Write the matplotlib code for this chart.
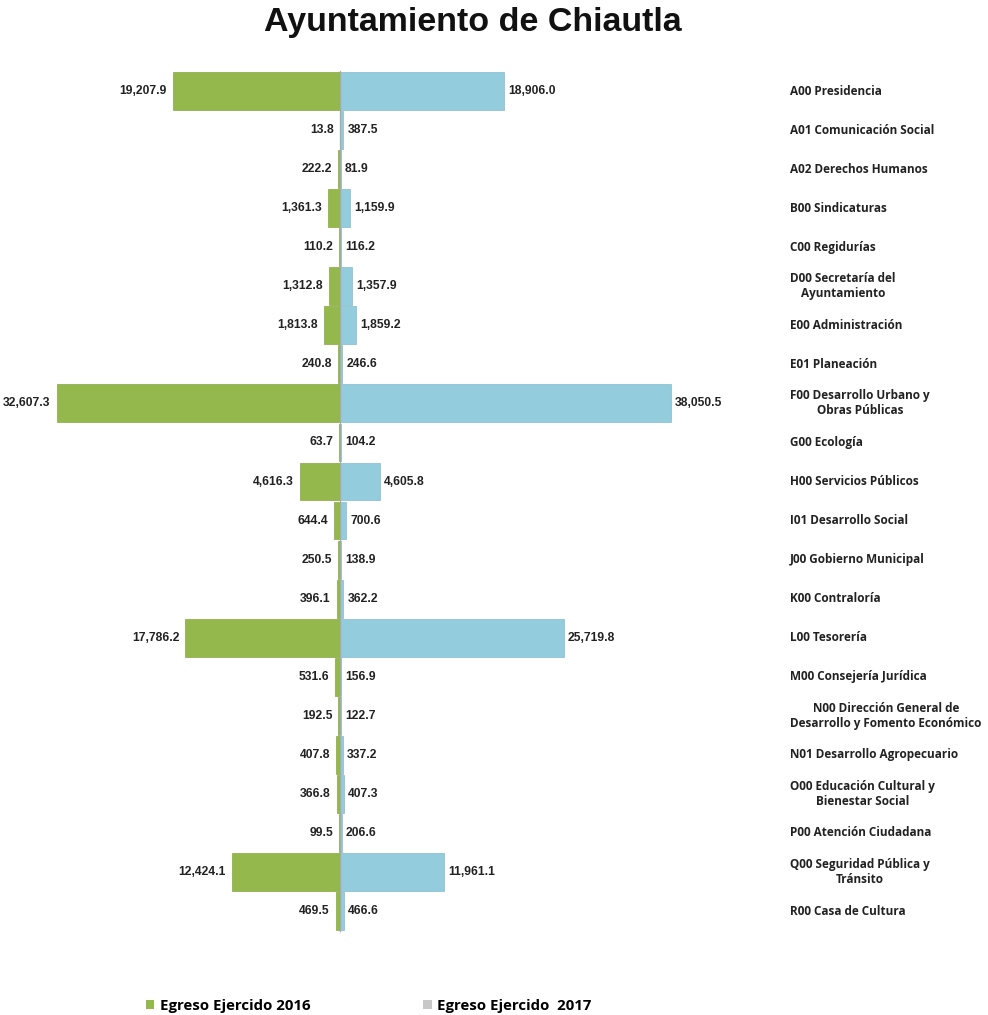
import matplotlib
matplotlib.use("Agg")
import matplotlib.pyplot as plt
from matplotlib.patches import Patch

categories = [
    "A00 Presidencia", "A01 Comunicación Social", "A02 Derechos Humanos",
    "B00 Sindicaturas", "C00 Regidurías", "D00 Secretaría del\nAyuntamiento",
    "E00 Administración", "E01 Planeación", "F00 Desarrollo Urbano y\nObras Públicas",
    "G00 Ecología", "H00 Servicios Públicos", "I01 Desarrollo Social",
    "J00 Gobierno Municipal", "K00 Contraloría", "L00 Tesorería",
    "M00 Consejería Jurídica", "N00 Dirección General de\nDesarrollo y Fomento Económico",
    "N01 Desarrollo Agropecuario", "O00 Educación Cultural y\nBienestar Social",
    "P00 Atención Ciudadana", "Q00 Seguridad Pública y\nTránsito", "R00 Casa de Cultura",
]
egreso_2016 = [19207.9, 13.8, 222.2, 1361.3, 110.2, 1312.8, 1813.8, 240.8, 32607.3, 63.7,
               4616.3, 644.4, 250.5, 396.1, 17786.2, 531.6, 192.5, 407.8, 366.8, 99.5,
               12424.1, 469.5]
egreso_2017 = [18906.0, 387.5, 81.9, 1159.9, 116.2, 1357.9, 1859.2, 246.6, 38050.5, 104.2,
               4605.8, 700.6, 138.9, 362.2, 25719.8, 156.9, 122.7, 337.2, 407.3, 206.6,
               11961.1, 466.6]
series_names = ["Egreso Ejercido 2016", "Egreso Ejercido  2017"]

W, H = 988, 1015
fig = plt.figure(figsize=(W / 100, H / 100), dpi=100)
ax = fig.add_axes([0, 0, 1, 1])

px_per_unit = 0.00869
x0_px = 340
ax.set_xlim(-x0_px / px_per_unit, (W - x0_px) / px_per_unit)
row0_px, row_step = 91, 39.05
ax.set_ylim((H - row0_px) / row_step, -row0_px / row_step)
ax.axis("off")

green = "#94B84C"
blue = "#92CCDD"
n = len(categories)
ys = list(range(n))
ax.barh(ys, [-v for v in egreso_2016], height=0.97, color=green,
        edgecolor="#86A842", linewidth=0.5)
ax.barh(ys, egreso_2017, height=0.97, color=blue,
        edgecolor="#84BCCC", linewidth=0.5)
ax.plot([0, 0], [-0.5, n - 0.5], color="#A8A8A8", lw=0.9, zorder=3)

vfont = dict(family=["Liberation Sans", "DejaVu Sans"], fontsize=8.7,
             fontweight="bold", color="#222222")
off = 6 / px_per_unit
for y, a, b in zip(ys, egreso_2016, egreso_2017):
    ax.text(-a - off, y, f"{a:,.1f}", ha="right", va="center", **vfont)
    ax.text(b + off * 0.7, y, f"{b:,.1f}", ha="left", va="center", **vfont)

lab_x = (790 - x0_px) / px_per_unit
for y, c in zip(ys, categories):
    ax.text(lab_x, y, c, ha="left", va="center", multialignment="center",
            family=["Open Sans", "DejaVu Sans"], fontsize=8.5, fontweight="bold",
            color="#222222", linespacing=1.2)

fig.text(473 / W, 1 - 23 / H, "Ayuntamiento de Chiautla", ha="center", va="center",
         family=["Liberation Sans", "DejaVu Sans"], fontsize=24.5, fontweight="bold",
         color="#111111")

handles = [Patch(facecolor=green, edgecolor="none"), Patch(facecolor="#C8C8C8", edgecolor="none")]
fig.legend(handles, series_names, loc="center left", bbox_to_anchor=(146 / W, 1 - 1006 / H),
           ncol=2, frameon=False, handlelength=0.55, handleheight=0.55, handletextpad=0.35,
           columnspacing=7.55, borderpad=0, borderaxespad=0,
           prop=dict(family=["Open Sans", "DejaVu Sans"], size=10.8, weight="bold"))

fig.savefig("out.png", dpi=100)
